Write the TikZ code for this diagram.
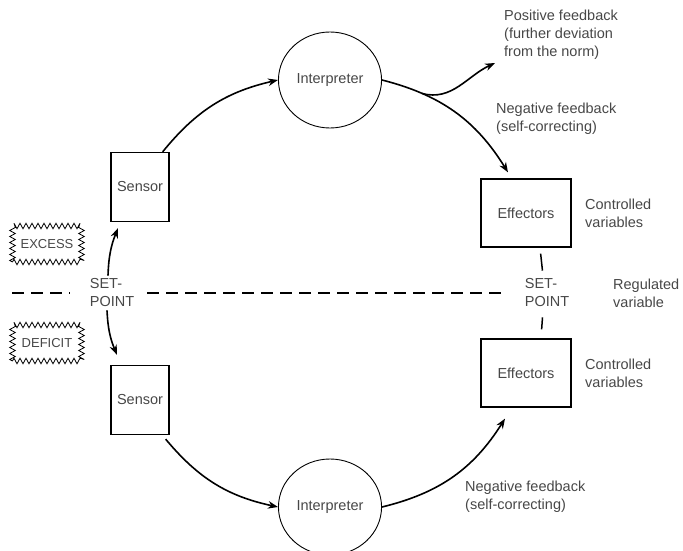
\documentclass[tikz,border=0pt]{standalone}
\usepackage{fontspec}
\setmainfont{Liberation Sans}
\usepackage{tikz}
\usetikzlibrary{arrows.meta, shapes.geometric, decorations.pathmorphing}

\begin{document}
\begin{tikzpicture}[x=1pt, y=1pt,
    txt/.style={text=black!72, font=\fontsize{14.5}{18}\selectfont, align=left, inner sep=3pt},
    box/.style={draw, line width=1.3pt, txt, align=center},
    interp/.style={draw, ellipse, line width=0.9pt, minimum width=86pt, minimum height=96pt, inner sep=0pt, txt, align=center},
    zig/.style={draw, line width=0.8pt, decorate, decoration={zigzag, segment length=6pt, amplitude=2.8pt},
      minimum width=69pt, minimum height=36pt, inner sep=1pt, text=black!72, font=\fontsize{13}{16}\selectfont},
    flow/.style={line width=1.6pt, -{Stealth[length=10pt,width=7.5pt]}},
    tick/.style={line width=1.5pt}]
  \useasboundingbox (0,0) rectangle (683,550);
  % Upper loop
  \node[interp] (intTop) at (330,470) {Interpreter};
  \node[box, minimum width=58pt, minimum height=69pt] (senTop) at (140,363) {Sensor};
  \node[box, minimum width=90pt, minimum height=68pt] (effTop) at (526,337) {Effectors};
  % Lower loop
  \node[interp] (intBot) at (330,43) {Interpreter};
  \node[box, minimum width=58pt, minimum height=69pt] (senBot) at (140,150) {Sensor};
  \node[box, minimum width=90pt, minimum height=68pt] (effBot) at (526,177) {Effectors};
  % Set-point line
  \node[txt] (spL) at (112,257) {SET-\\POINT};
  \node[txt] (spR) at (547,257) {SET-\\POINT};
  \coordinate (dashStart) at (12,257);
  \draw[line width=1.1pt, dash pattern=on 12pt off 7pt, shorten >=17pt] (dashStart) -- (spL.west);
  \draw[line width=1.1pt, dash pattern=on 12pt off 7pt, shorten <=10pt, shorten >=14pt] (spL.east) -- (spR.west);
  % Excess / deficit
  \node[zig] (excess) at (47,306) {EXCESS};
  \node[zig] (deficit) at (47,207) {DEFICIT};
  % Labels
  \node[txt, anchor=west] (posFb) at (501,515.5) {Positive feedback\\(further deviation\\from the norm)};
  \node[txt, anchor=west] (negTop) at (493,431) {Negative feedback\\(self-correcting)};
  \node[txt, anchor=west] (negBot) at (462,53.5) {Negative feedback\\(self-correcting)};
  \node[txt, anchor=west] (ctrlTop) at (582,337) {Controlled\\variables};
  \node[txt, anchor=west] (ctrlBot) at (582,177) {Controlled\\variables};
  \node[txt, anchor=west] (regVar) at (610,257) {Regulated\\variable};
  \coordinate (posEnd) at (495,487);
  % Arrows, upper half
  \draw[flow] ([xshift=-4pt]spL.north) to[bend left=10] ([xshift=-22pt,yshift=-6pt]senTop.south);
  \draw[flow] ([xshift=-7pt]senTop.north east) to[bend left=19] (intTop.west);
  \draw[flow] (intTop.east) to[bend left=22] coordinate[pos=0.25] (fork) ([xshift=-18pt,yshift=6pt]effTop.north);
  \draw[flow] (fork) to[out=-15, in=205] (posEnd);
  % Arrows, lower half
  \draw[flow] ([xshift=-5pt]spL.south) to[bend right=10] ([xshift=-23pt,yshift=10pt]senBot.north);
  \draw[flow] ([xshift=-4pt,yshift=-4pt]senBot.south east) to[bend right=19] (intBot.west);
  \draw[flow] (intBot.east) to[bend right=22] ([xshift=-21pt,yshift=-11pt]effBot.south);
  % Ticks to the right set-point
  \draw[tick, shorten <=6pt, shorten >=5pt] ([xshift=14pt]effTop.south) -- ([xshift=-4pt]spR.north);
  \draw[tick, shorten <=7pt, shorten >=9pt] ([xshift=-4pt]spR.south) -- ([xshift=15pt]effBot.north);
\end{tikzpicture}
\end{document}
